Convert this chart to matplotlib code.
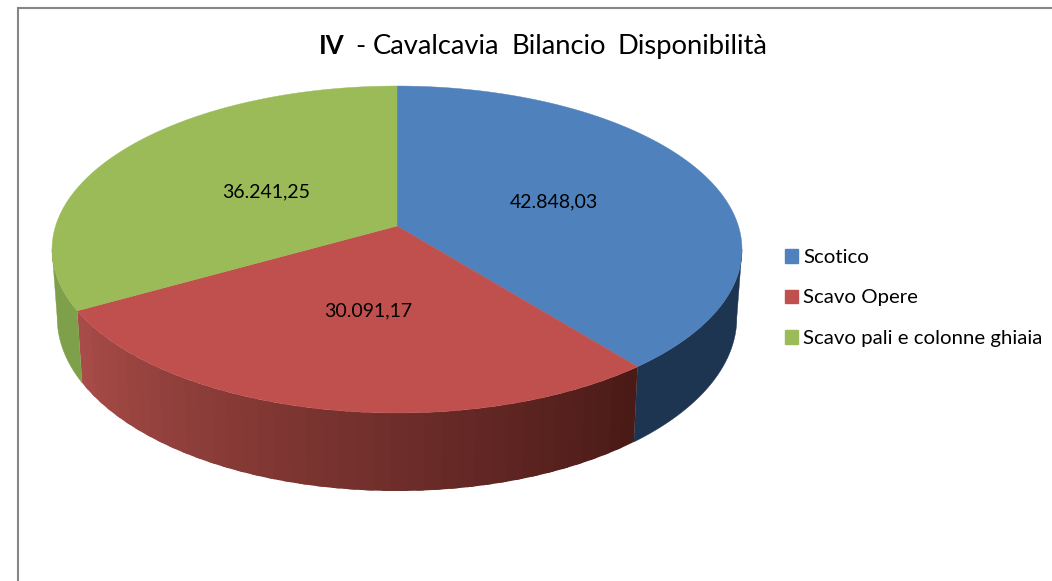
import numpy as np
import matplotlib
matplotlib.use("Agg")
import matplotlib.pyplot as plt
from matplotlib.colors import to_rgb
from matplotlib.patches import Patch

categories = ["Scotico", "Scavo Opere", "Scavo pali e colonne ghiaia"]
values = [42848.03, 30091.17, 36241.25]
value_labels = ["42.848,03", "30.091,17", "36.241,25"]

colors = ["#4f81bd", "#c0504d", "#9bbb59"]
side_left = ["#1e3552", "#a84c48", "#7fa04a"]
side_right = ["#1e3552", "#4a1a17", "#7fa04a"]
label_radius = [0.50, 0.50, 0.46]
label_nudge = [(0, 2), (6, 0), (0, 2)]

plt.rcParams['font.family'] = ['Lato', 'DejaVu Sans']

# pie geometry in pixels, tilted circle under a small perspective
cx, cy = 397, 226
a, b, k = 341.4, 160.1, 0.1437
depth = 66.8
shrink = 0.985


def top(theta, r=1.0):
    u, v = r * np.sin(theta), r * np.cos(theta)
    d = 1 + k * v
    return cx + a * u / d, cy - b * v / d


def bottom(theta):
    u, v = np.sin(theta), np.cos(theta)
    d = 1 + k * v
    return cx + shrink * a * u / d, cy - b * v / d + depth / d


fig = plt.figure(figsize=(10.52, 5.81), dpi=100)
ax = fig.add_axes([0, 0, 1, 1])
ax.set_xlim(0, 1052)
ax.set_ylim(581, 0)
ax.axis("off")

# chart frame, only top and left are visible
ax.plot([18, 18, 1052], [581, 8, 8], color="#868686", lw=1.5, solid_joinstyle="miter")

edges = np.radians(np.concatenate([[0], np.cumsum(values)]) / np.sum(values) * 360)
vis_start = np.arccos(-k)
vis_end = 2 * np.pi - vis_start

# side wall first, the strips overlap so no seams show
for i in range(3):
    t0, t1 = max(edges[i], vis_start), min(edges[i + 1], vis_end)
    if t1 <= t0:
        continue
    if side_left[i] == side_right[i]:
        th = np.linspace(t0, t1, 100)
        xt, yt = top(th)
        xb, yb = bottom(th)
        ax.fill(np.r_[xt, xb[::-1]], np.r_[yt, yb[::-1]], color=side_left[i], lw=0.3)
        continue
    steps = np.linspace(t0, t1, 41)
    c0, c1 = np.array(to_rgb(side_right[i])), np.array(to_rgb(side_left[i]))
    for j in range(40):
        th = np.linspace(steps[j], min(steps[j + 1] + 0.02, t1), 6)
        xt, yt = top(th)
        xb, yb = bottom(th)
        col = c0 + (c1 - c0) * j / 39
        ax.fill(np.r_[xt, xb[::-1]], np.r_[yt, yb[::-1]], color=col, lw=0)

# top face
for i in range(3):
    th = np.linspace(edges[i], edges[i + 1], 200)
    xt, yt = top(th)
    ax.fill(np.r_[cx, xt], np.r_[cy, yt], color=colors[i], lw=0.3)

mids = (edges[:-1] + edges[1:]) / 2
for i in range(3):
    lx, ly = top(mids[i], label_radius[i])
    ax.text(lx + label_nudge[i][0], ly + label_nudge[i][1], value_labels[i],
            ha="center", va="center", fontsize=14, color="black")

# title, bold part and word gaps are set by hand
ax.text(319, 54, "IV", fontsize=18.5, fontweight="bold", va="baseline", ha="left")
ax.text(355, 54, "-", fontsize=19.7, va="baseline", ha="left")
ax.text(373, 54, "Cavalcavia", fontsize=19.7, va="baseline", ha="left")
ax.text(511, 54, "Bilancio", fontsize=19.7, va="baseline", ha="left")
ax.text(617, 54, "Disponibilità", fontsize=19.7, va="baseline", ha="left")

handles = [Patch(color=c) for c in colors]
ax.legend(handles, categories, loc="upper left", bbox_to_anchor=(785 / 1052, 1 - 249 / 581),
          frameon=False, fontsize=14.7, handlelength=0.64, handleheight=0.64,
          handletextpad=0.25, labelspacing=1.15, borderpad=0, borderaxespad=0)

fig.savefig("out.png", dpi=100)
